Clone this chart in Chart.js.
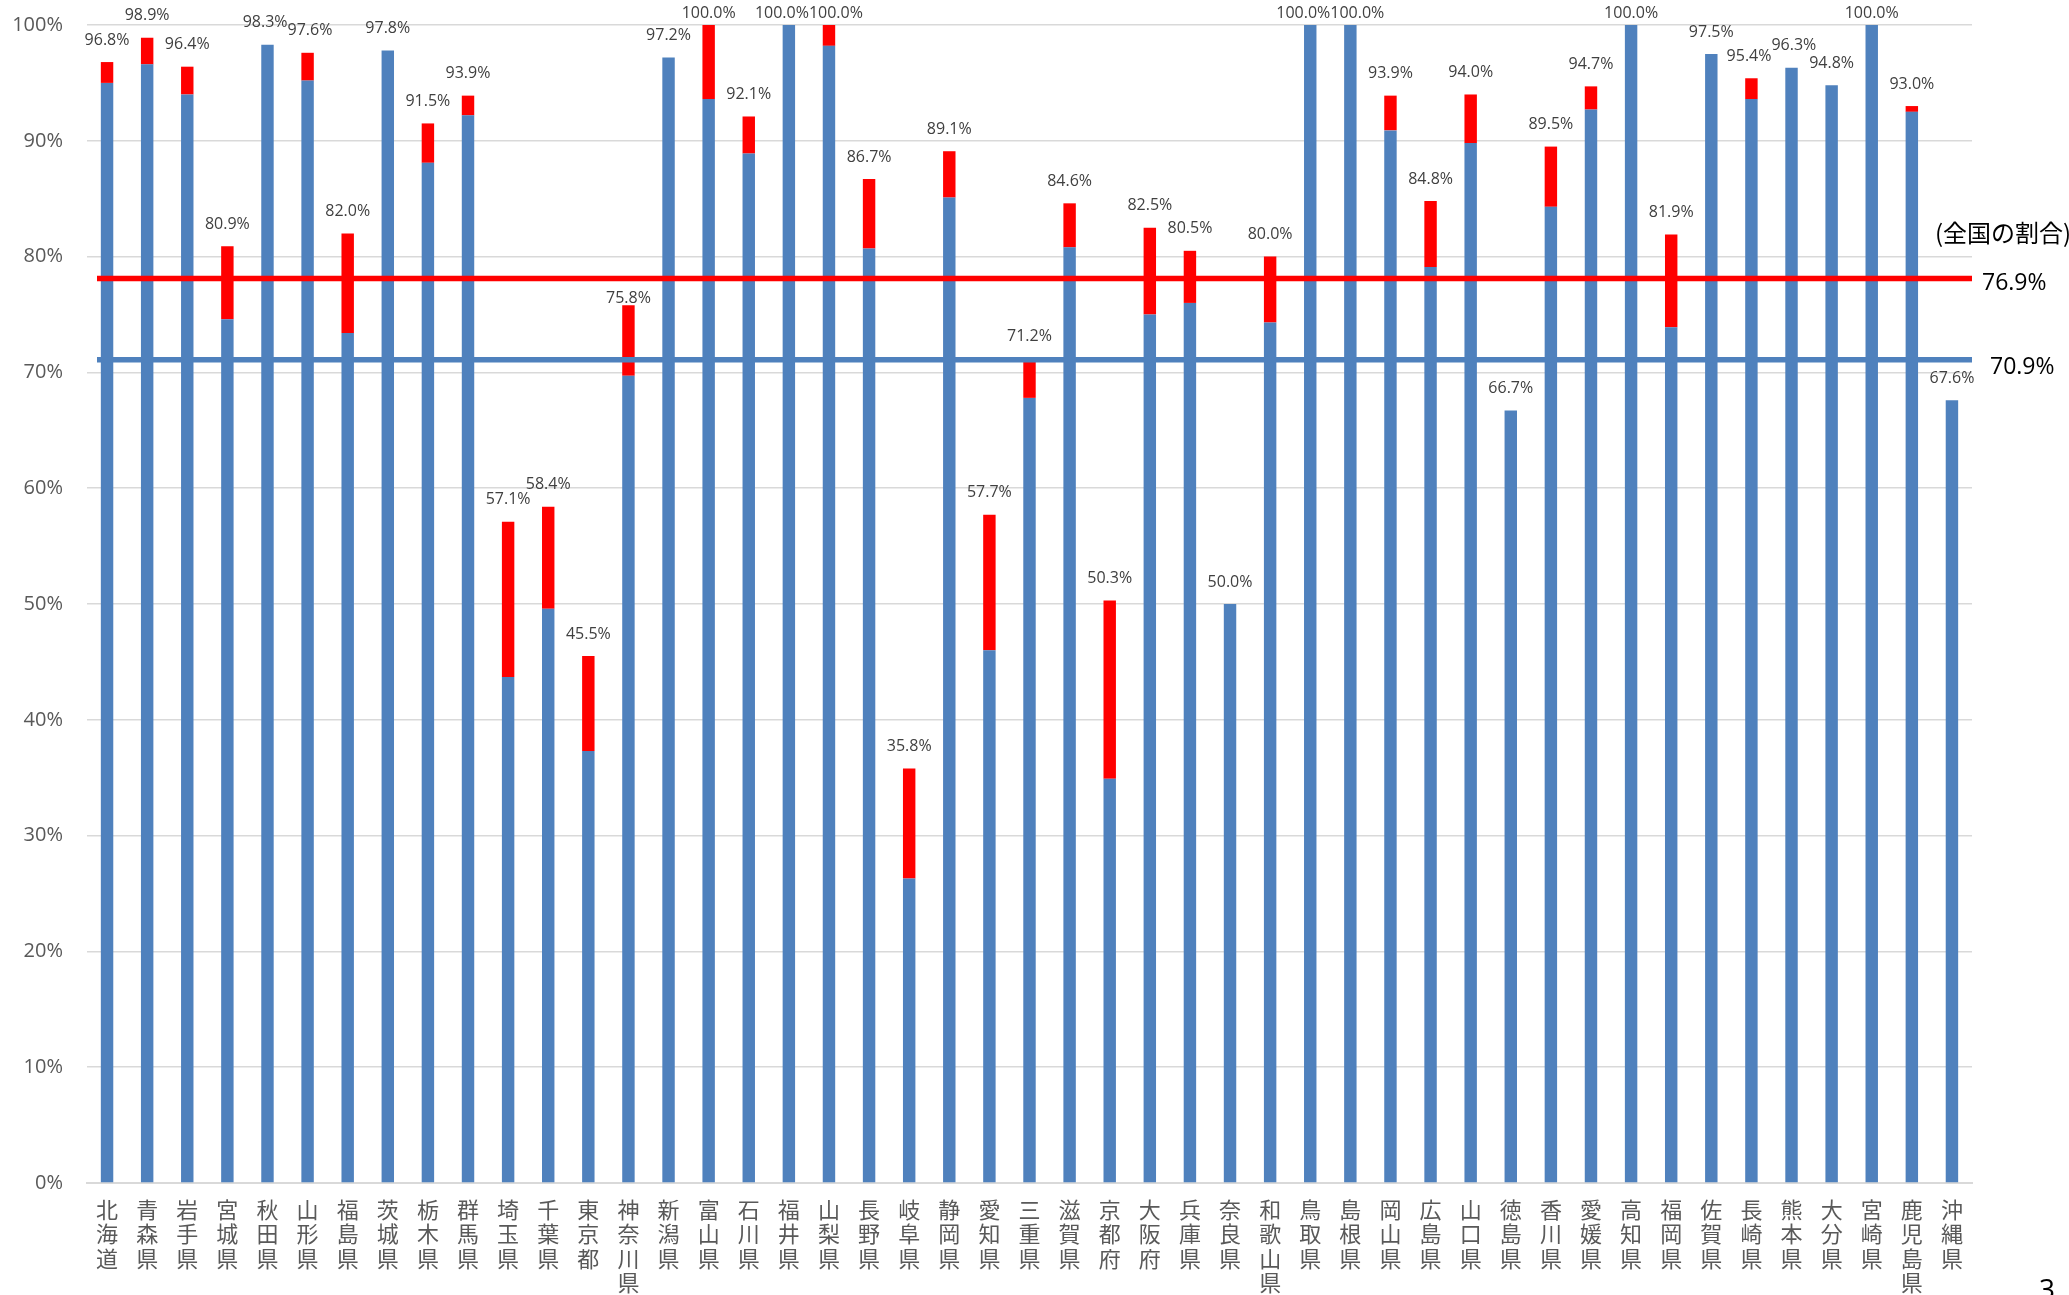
<!DOCTYPE html>
<html>
<head>
<meta charset="utf-8">
<script src="https://cdn.jsdelivr.net/npm/chart.js@4/dist/chart.umd.min.js"></script>
<style>
html,body{margin:0;padding:0;background:#fff;overflow:hidden;}
canvas{display:block;}
</style>
</head>
<body>
<canvas id="c" width="2069" height="1295" style="width:2069px;height:1295px"></canvas>
<script>
// ---- data ----
const prefectures = ['北海道','青森県','岩手県','宮城県','秋田県','山形県','福島県','茨城県','栃木県','群馬県',
  '埼玉県','千葉県','東京都','神奈川県','新潟県','富山県','石川県','福井県','山梨県','長野県',
  '岐阜県','静岡県','愛知県','三重県','滋賀県','京都府','大阪府','兵庫県','奈良県','和歌山県',
  '鳥取県','島根県','岡山県','広島県','山口県','徳島県','香川県','愛媛県','高知県','福岡県',
  '佐賀県','長崎県','熊本県','大分県','宮崎県','鹿児島県','沖縄県'];
// blue part (lower segment)
const baseValues = [95.0,96.6,94.0,74.6,98.3,95.2,73.4,97.8,88.1,92.2,
  43.7,49.6,37.3,69.7,97.2,93.6,88.9,100.0,98.2,80.7,
  26.3,85.1,46.0,67.8,80.8,34.9,75.0,76.0,50.0,74.3,
  100.0,100.0,90.9,79.1,89.8,66.7,84.3,92.7,100.0,73.9,
  97.5,93.6,96.3,94.8,100.0,92.5,67.6];
// red part (upper segment)
const addedValues = [1.8,2.3,2.4,6.3,0,2.4,8.6,0,3.4,1.7,
  13.4,8.8,8.2,6.1,0,6.4,3.2,0,1.8,6.0,
  9.5,4.0,11.7,3.4,3.8,15.4,7.5,4.5,0,5.7,
  0,0,3.0,5.7,4.2,0,5.2,2.0,0,8.0,
  0,1.8,0,0,0,0.5,0];
// national reference lines (drawn level, and the text printed beside them)
const refLevels = [78.1, 71.1];
const refLabels = ['76.9%', '70.9%'];
const noteText = '(全国の割合)';
const pageNumber = '3';

const BLUE = '#4f81bd';
const RED = '#ff0000';

const overlay = {
  id: 'overlay',
  afterDatasetsDraw(chart) {
    const {ctx, chartArea, scales: {x, y}} = chart;
    ctx.save();
    // reference lines
    const lineColors = [RED, BLUE];
    const linePix = refLevels.map(v => y.getPixelForValue(v));
    linePix.forEach((py, i) => {
      ctx.strokeStyle = lineColors[i];
      ctx.lineWidth = 5.5;
      ctx.beginPath();
      ctx.moveTo(chartArea.left + 10, py);
      ctx.lineTo(chartArea.right, py);
      ctx.stroke();
    });
    // total labels
    ctx.font = '16px "Open Sans"';
    ctx.fillStyle = '#404040';
    ctx.textAlign = 'center';
    ctx.textBaseline = 'middle';
    const items = prefectures.map((p, i) => {
      const total = baseValues[i] + addedValues[i];
      const text = total.toFixed(1) + '%';
      let ly = Math.max(y.getPixelForValue(total) - 22, 13);
      linePix.forEach(lp => { if (Math.abs(ly - lp) < 14) ly = lp + 20; });
      return {text, x: x.getPixelForValue(i), y: ly, w: ctx.measureText(text).width};
    });
    for (let i = 1; i < items.length; i++) {
      const a = items[i - 1], b = items[i];
      if (Math.abs(a.y - b.y) < 12) {
        const overlap = (a.w + b.w) / 2 - (b.x - a.x);
        if (overlap > 0) { a.x -= overlap / 2; b.x += overlap / 2; }
      }
    }
    items.forEach(it => ctx.fillText(it.text, it.x, it.y));
    // right side notes
    ctx.textAlign = 'left';
    ctx.fillStyle = '#000';
    ctx.font = '24px "Noto Sans CJK JP"';
    ctx.fillText(noteText, chartArea.right - 37, linePix[0] - 46);
    ctx.font = '23px "Open Sans"';
    ctx.fillText(refLabels[0], chartArea.right + 10, linePix[0] + 5);
    ctx.fillText(refLabels[1], chartArea.right + 18, linePix[1] + 8);
    ctx.font = '28px "Open Sans"';
    ctx.textBaseline = 'top';
    ctx.fillText(pageNumber, chart.width - 30, chart.height - 18);
    ctx.restore();
  }
};

new Chart(document.getElementById('c'), {
  type: 'bar',
  data: {
    labels: prefectures.map(p => p.split('')),
    datasets: [
      {data: baseValues, backgroundColor: BLUE, barPercentage: 0.31, categoryPercentage: 1},
      {data: addedValues, backgroundColor: RED, barPercentage: 0.31, categoryPercentage: 1}
    ]
  },
  options: {
    responsive: false,
    devicePixelRatio: 1,
    animation: false,
    layout: {padding: {left: 0, top: 25, right: 97, bottom: 0}},
    plugins: {legend: {display: false}, tooltip: {enabled: false}, title: {display: false}},
    scales: {
      x: {
        stacked: true,
        grid: {display: false, drawTicks: false},
        border: {display: true, color: '#d9d9d9', width: 2},
        ticks: {
          autoSkip: false, maxRotation: 0, minRotation: 0, padding: 14,
          color: '#595959',
          font: {family: '"Noto Sans CJK JP"', size: 22, lineHeight: '24.5px'}
        },
        afterFit(scale) { scale.height = 112; }
      },
      y: {
        stacked: true,
        min: 0, max: 100,
        grid: {color: '#d9d9d9', lineWidth: 1.5, drawTicks: false},
        border: {display: false},
        ticks: {
          stepSize: 10, padding: 24, color: '#595959',
          font: {family: '"Open Sans"', size: 20},
          callback: v => v + '%'
        },
        afterFit(scale) { scale.width = 87; scale.paddingTop = 0; scale.paddingBottom = 0; }
      }
    }
  },
  plugins: [overlay]
});
</script>
</body>
</html>
